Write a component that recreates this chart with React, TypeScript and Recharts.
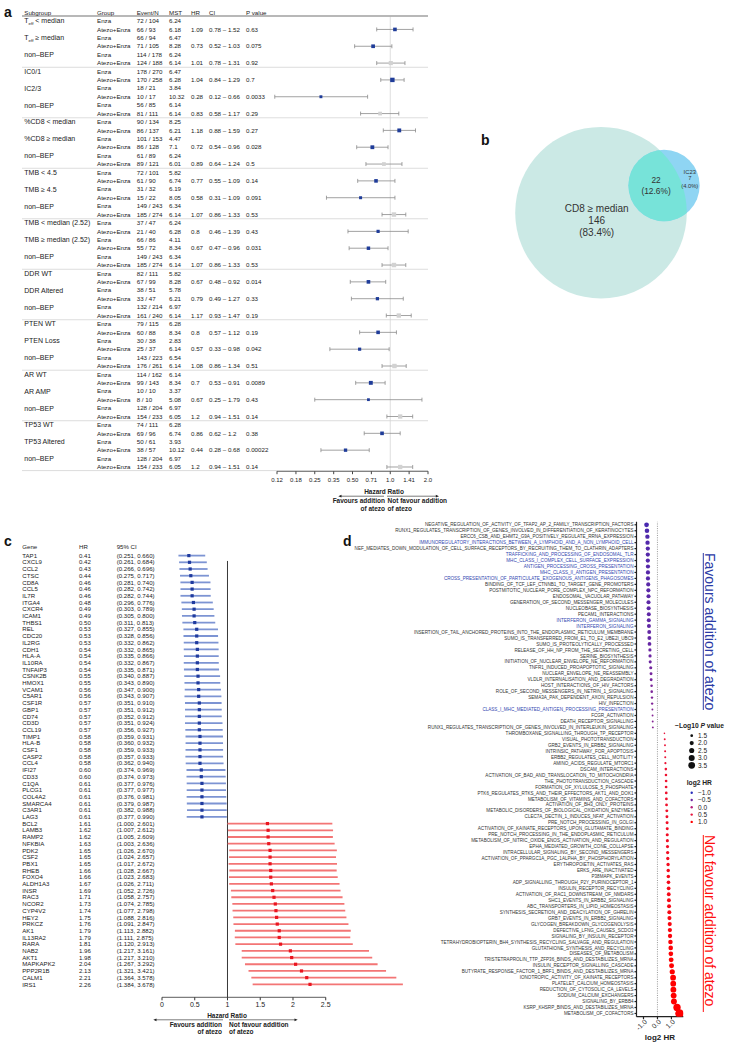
import React from "react";
import { ScatterChart, Scatter, XAxis, YAxis, ErrorBar, ReferenceLine } from "recharts";

const FONT = "'Liberation Sans', Arial, Helvetica, sans-serif";
const INK = "#222";

// ---- panel a: subgroup forest plot ----
const aSubgroups = [
  "T_eff < median", "T_eff ≥ median", "non–BEP",
  "IC0/1", "IC2/3", "non–BEP",
  "%CD8 < median", "%CD8 ≥ median", "non–BEP",
  "TMB < 4.5", "TMB ≥ 4.5", "non–BEP",
  "TMB < median (2.52)", "TMB ≥ median (2.52)", "non–BEP",
  "DDR WT", "DDR Altered", "non–BEP",
  "PTEN WT", "PTEN Loss", "non–BEP",
  "AR WT", "AR AMP", "non–BEP",
  "TP53 WT", "TP53 Altered", "non–BEP",
];
const aEnzaEvents = [72, 66, 114, 178, 18, 56, 90, 101, 61, 72, 31, 149, 37, 66, 149, 82, 38, 132, 79, 30, 143, 114, 10, 128, 74, 50, 128];
const aEnzaN = [104, 94, 178, 270, 21, 85, 134, 153, 89, 101, 32, 243, 47, 86, 243, 111, 51, 214, 115, 38, 223, 162, 10, 204, 111, 61, 204];
const aEnzaMst = [6.24, 6.47, 6.24, 6.47, 3.84, 6.14, 8.25, 4.47, 6.24, 5.82, 6.19, 6.34, 6.24, 4.11, 6.34, 5.82, 5.78, 6.97, 6.28, 2.83, 6.54, 6.14, 3.37, 6.97, 6.28, 3.93, 6.97];
const aComboEvents = [66, 71, 124, 170, 10, 81, 86, 86, 89, 61, 15, 185, 21, 55, 185, 67, 33, 161, 60, 25, 176, 99, 8, 154, 69, 38, 154];
const aComboN = [93, 105, 188, 258, 17, 111, 137, 128, 121, 90, 22, 274, 40, 72, 274, 99, 47, 240, 88, 37, 261, 143, 10, 233, 96, 57, 233];
const aComboMst = [6.18, 8.28, 6.14, 6.28, 10.32, 6.14, 6.21, 7.1, 6.01, 6.74, 8.05, 6.14, 6.28, 8.34, 6.14, 8.28, 6.21, 6.14, 8.34, 6.14, 6.14, 8.34, 5.08, 6.05, 6.74, 10.12, 6.05];
const aHR = [1.09, 0.73, 1.01, 1.04, 0.28, 0.83, 1.18, 0.72, 0.89, 0.77, 0.58, 1.07, 0.8, 0.67, 1.07, 0.67, 0.79, 1.17, 0.8, 0.57, 1.08, 0.7, 0.67, 1.2, 0.86, 0.44, 1.2];
const aLow = [0.78, 0.52, 0.78, 0.84, 0.12, 0.58, 0.88, 0.54, 0.64, 0.55, 0.31, 0.86, 0.46, 0.47, 0.86, 0.48, 0.49, 0.93, 0.57, 0.33, 0.86, 0.53, 0.25, 0.94, 0.62, 0.28, 0.94];
const aHigh = [1.52, 1.03, 1.31, 1.29, 0.66, 1.17, 1.59, 0.96, 1.24, 1.09, 1.09, 1.33, 1.39, 0.96, 1.33, 0.92, 1.27, 1.47, 1.12, 0.98, 1.34, 0.91, 1.79, 1.51, 1.2, 0.68, 1.51];
const aP = [0.63, 0.075, 0.92, 0.7, 0.0033, 0.29, 0.27, 0.028, 0.5, 0.14, 0.091, 0.53, 0.43, 0.031, 0.53, 0.014, 0.33, 0.19, 0.19, 0.042, 0.51, 0.0089, 0.43, 0.14, 0.38, 0.00022, 0.14];
const aTickValues = [0.125, 0.177, 0.25, 0.354, 0.5, 0.707, 1, 1.414, 2];
const aTickLabels = ["0.12", "0.18", "0.25", "0.35", "0.50", "0.71", "1.0", "1.41", "2.0"];
const aHeaders = ["Subgroup", "Group", "Event/N", "MST", "HR", "CI", "P value"];

// ---- panel b: Venn ----
const vennSets = ["CD8 ≥ median", "IC23"];
const vennOnly = [146, 7];
const vennBoth = 22;

// ---- panel c: gene forest plot ----
const geneNames = ["TAP1", "CXCL9", "CCL2", "CTSC", "CD8A", "CCL5", "IL7R", "ITGA4", "CXCR4", "ICAM1", "THBS1", "REL", "CDC20", "IL2RG", "CDH1", "HLA-A", "IL10RA", "TNFAIP3", "CSNK2B", "HMOX1", "VCAM1", "C5AR1", "CSF1R", "GBP1", "CD74", "CD3D", "CCL19", "TIMP1", "HLA-B", "CSF1", "CASP2", "CCL4", "IFI27", "CD33", "C1QA", "PLCG1", "COL4A2", "SMARCA4", "C3AR1", "LAG3", "BCL2", "LAMB3", "RAMP2", "NFKBIA", "PDK2", "CSF2", "PBX1", "RHEB", "FOXO4", "ALDH1A3", "INSR", "RAC3", "NCOR2", "CYP4V2", "HEY2", "PRKCZ", "AK1", "IL13RA2", "RARA", "NAB2", "AKT1", "MAPKAPK2", "PPP2R1B", "CALM1", "IRS1"];
const geneHR = [0.41, 0.42, 0.43, 0.44, 0.46, 0.46, 0.46, 0.48, 0.49, 0.49, 0.5, 0.53, 0.53, 0.53, 0.54, 0.54, 0.54, 0.54, 0.55, 0.55, 0.56, 0.56, 0.57, 0.57, 0.57, 0.57, 0.57, 0.58, 0.58, 0.58, 0.58, 0.58, 0.6, 0.6, 0.61, 0.61, 0.61, 0.61, 0.61, 0.61, 1.61, 1.62, 1.62, 1.63, 1.65, 1.65, 1.65, 1.66, 1.66, 1.67, 1.69, 1.71, 1.73, 1.74, 1.75, 1.76, 1.79, 1.79, 1.81, 1.96, 1.98, 2.04, 2.13, 2.21, 2.26];
const geneLow = [0.251, 0.261, 0.266, 0.275, 0.281, 0.282, 0.282, 0.296, 0.303, 0.305, 0.311, 0.327, 0.328, 0.332, 0.332, 0.335, 0.332, 0.335, 0.34, 0.343, 0.347, 0.343, 0.351, 0.351, 0.352, 0.351, 0.356, 0.359, 0.36, 0.359, 0.357, 0.362, 0.374, 0.374, 0.377, 0.377, 0.376, 0.379, 0.382, 0.377, 1.0, 1.007, 1.005, 1.003, 1.026, 1.024, 1.017, 1.028, 1.023, 1.026, 1.052, 1.058, 1.074, 1.077, 1.088, 1.091, 1.113, 1.111, 1.12, 1.217, 1.217, 1.267, 1.321, 1.364, 1.384];
const geneHigh = [0.66, 0.684, 0.696, 0.717, 0.74, 0.742, 0.744, 0.776, 0.789, 0.8, 0.813, 0.855, 0.856, 0.862, 0.865, 0.866, 0.867, 0.871, 0.887, 0.89, 0.9, 0.907, 0.91, 0.912, 0.912, 0.924, 0.927, 0.931, 0.932, 0.933, 0.933, 0.94, 0.969, 0.973, 0.976, 0.977, 0.981, 0.987, 0.988, 0.99, 2.601, 2.612, 2.609, 2.636, 2.67, 2.657, 2.672, 2.667, 2.683, 2.711, 2.726, 2.757, 2.785, 2.798, 2.816, 2.847, 2.882, 2.875, 2.913, 3.161, 3.21, 3.292, 3.421, 3.578, 3.678];
const geneTicks = [0, 0.5, 1, 1.5, 2, 2.5];

// ---- panel d: pathway dot plot ----
const pathNames = [
  "NEGATIVE_REGULATION_OF_ACTIVITY_OF_TFAP2_AP_2_FAMILY_TRANSCRIPTION_FACTORS",
  "RUNX1_REGULATES_TRANSCRIPTION_OF_GENES_INVOLVED_IN_DIFFERENTIATION_OF_KERATINOCYTES",
  "ERCC6_CSB_AND_EHMT2_G9A_POSITIVELY_REGULATE_RRNA_EXPRESSION",
  "IMMUNOREGULATORY_INTERACTIONS_BETWEEN_A_LYMPHOID_AND_A_NON_LYMPHOID_CELL",
  "NEF_MEDIATES_DOWN_MODULATION_OF_CELL_SURFACE_RECEPTORS_BY_RECRUITING_THEM_TO_CLATHRIN_ADAPTERS",
  "TRAFFICKING_AND_PROCESSING_OF_ENDOSOMAL_TLR",
  "MHC_CLASS_I_COMPLEX_CELL_SURFACE_EXPRESSION",
  "ANTIGEN_PROCESSING_CROSS_PRESENTATION",
  "MHC_CLASS_II_ANTIGEN_PRESENTATION",
  "CROSS_PRESENTATION_OF_PARTICULATE_EXOGENOUS_ANTIGENS_PHAGOSOMES",
  "BINDING_OF_TCF_LEF_CTNNB1_TO_TARGET_GENE_PROMOTERS",
  "POSTMITOTIC_NUCLEAR_PORE_COMPLEX_NPC_REFORMATION",
  "ENDOSOMAL_VACUOLAR_PATHWAY",
  "GENERATION_OF_SECOND_MESSENGER_MOLECULES",
  "NUCLEOBASE_BIOSYNTHESIS",
  "PECAM1_INTERACTIONS",
  "INTERFERON_GAMMA_SIGNALING",
  "INTERFERON_SIGNALING",
  "INSERTION_OF_TAIL_ANCHORED_PROTEINS_INTO_THE_ENDOPLASMIC_RETICULUM_MEMBRANE",
  "SUMO_IS_TRANSFERRED_FROM_E1_TO_E2_UBE2I_UBC9",
  "SUMO_IS_PROTEOLYTICALLY_PROCESSED",
  "RELEASE_OF_HH_NP_FROM_THE_SECRETING_CELL",
  "SERINE_BIOSYNTHESIS",
  "INITIATION_OF_NUCLEAR_ENVELOPE_NE_REFORMATION",
  "TNFR1_INDUCED_PROAPOPTOTIC_SIGNALING",
  "NUCLEAR_ENVELOPE_NE_REASSEMBLY",
  "VLDLR_INTERNALISATION_AND_DEGRADATION",
  "HOST_INTERACTIONS_OF_HIV_FACTORS",
  "ROLE_OF_SECOND_MESSENGERS_IN_NETRIN_1_SIGNALING",
  "SEMA3A_PAK_DEPENDENT_AXON_REPULSION",
  "HIV_INFECTION",
  "CLASS_I_MHC_MEDIATED_ANTIGEN_PROCESSING_PRESENTATION",
  "FCGR_ACTIVATION",
  "DEATH_RECEPTOR_SIGNALLING",
  "RUNX1_REGULATES_TRANSCRIPTION_OF_GENES_INVOLVED_IN_INTERLEUKIN_SIGNALING",
  "THROMBOXANE_SIGNALLING_THROUGH_TP_RECEPTOR",
  "VISUAL_PHOTOTRANSDUCTION",
  "GRB2_EVENTS_IN_ERBB2_SIGNALING",
  "INTRINSIC_PATHWAY_FOR_APOPTOSIS",
  "ERBB2_REGULATES_CELL_MOTILITY",
  "AMINO_ACIDS_REGULATE_MTORC1",
  "DSCAM_INTERACTIONS",
  "ACTIVATION_OF_BAD_AND_TRANSLOCATION_TO_MITOCHONDRIA",
  "THE_PHOTOTRANSDUCTION_CASCADE",
  "FORMATION_OF_XYLULOSE_5_PHOSPHATE",
  "PTK6_REGULATES_RTKS_AND_THEIR_EFFECTORS_AKT1_AND_DOK1",
  "METABOLISM_OF_VITAMINS_AND_COFACTORS",
  "ACTIVATION_OF_BH3_ONLY_PROTEINS",
  "METABOLIC_DISORDERS_OF_BIOLOGICAL_OXIDATION_ENZYMES",
  "CLEC7A_DECTIN_1_INDUCES_NFAT_ACTIVATION",
  "PRE_NOTCH_PROCESSING_IN_GOLGI",
  "ACTIVATION_OF_KAINATE_RECEPTORS_UPON_GLUTAMATE_BINDING",
  "PRE_NOTCH_PROCESSING_IN_THE_ENDOPLASMIC_RETICULUM",
  "METABOLISM_OF_NITRIC_OXIDE_ENOS_ACTIVATION_AND_REGULATION",
  "EPHA_MEDIATED_GROWTH_CONE_COLLAPSE",
  "INTRACELLULAR_SIGNALING_BY_SECOND_MESSENGERS",
  "ACTIVATION_OF_PPARGC1A_PGC_1ALPHA_BY_PHOSPHORYLATION",
  "ERYTHROPOIETIN_ACTIVATES_RAS",
  "ERKS_ARE_INACTIVATED",
  "P38MAPK_EVENTS",
  "ADP_SIGNALLING_THROUGH_P2Y_PURINOCEPTOR_1",
  "INSULIN_RECEPTOR_RECYCLING",
  "ACTIVATION_OF_RAC1_DOWNSTREAM_OF_NMDARS",
  "SHC1_EVENTS_IN_ERBB2_SIGNALING",
  "ABC_TRANSPORTERS_IN_LIPID_HOMEOSTASIS",
  "SYNTHESIS_SECRETION_AND_DEACYLATION_OF_GHRELIN",
  "GRB7_EVENTS_IN_ERBB2_SIGNALING",
  "GLYCOGEN_BREAKDOWN_GLYCOGENOLYSIS",
  "DEFECTIVE_LFNG_CAUSES_SCDO3",
  "SIGNALING_BY_INSULIN_RECEPTOR",
  "TETRAHYDROBIOPTERIN_BH4_SYNTHESIS_RECYCLING_SALVAGE_AND_REGULATION",
  "GLUTATHIONE_SYNTHESIS_AND_RECYCLING",
  "DISEASES_OF_METABOLISM",
  "TRISTETRAPROLIN_TTP_ZFP36_BINDS_AND_DESTABILIZES_MRNA",
  "INSULIN_RECEPTOR_SIGNALLING_CASCADE",
  "BUTYRATE_RESPONSE_FACTOR_1_BRF1_BINDS_AND_DESTABILIZES_MRNA",
  "IONOTROPIC_ACTIVITY_OF_KAINATE_RECEPTORS",
  "PLATELET_CALCIUM_HOMEOSTASIS",
  "REDUCTION_OF_CYTOSOLIC_CA_LEVELS",
  "SODIUM_CALCIUM_EXCHANGERS",
  "SIGNALING_BY_ERBB4",
  "KSRP_KHSRP_BINDS_AND_DESTABILIZES_MRNA",
  "METABOLISM_OF_COFACTORS",
];
const pathLog2HR = [
  -0.78, -0.75, -0.72, -0.71, -0.69, -0.69, -0.69, -0.68, -0.68, -0.68,
  -0.66, -0.65, -0.64, -0.64, -0.63, -0.62, -0.62, -0.61, -0.59, -0.58,
  -0.57, -0.54, -0.53, -0.52, -0.48, -0.46, -0.45, -0.42, -0.41, -0.39,
  -0.38, -0.36, -0.35, -0.34, -0.33, 0.5, 0.52, 0.54, 0.55, 0.56,
  0.57, 0.6, 0.61, 0.62, 0.62, 0.63, 0.64, 0.65, 0.67, 0.68,
  0.69, 0.7, 0.7, 0.71, 0.72, 0.73, 0.74, 0.76, 0.77, 0.78,
  0.79, 0.8, 0.81, 0.82, 0.83, 0.85, 0.86, 0.88, 0.89, 0.9,
  0.93, 0.95, 0.96, 0.98, 1.01, 1.06, 1.12, 1.13, 1.14, 1.16,
  1.18, 1.4, 1.58,
];
const pathMlogP = [
  2.3, 2.2, 2.1, 2.1, 2.05, 2.05, 2.05, 2.05, 2.05, 2.05,
  2.0, 2.0, 2.0, 2.0, 2.0, 1.95, 1.95, 1.95, 1.9, 1.9,
  1.85, 1.65, 1.65, 1.6, 1.6, 1.55, 1.55, 1.45, 1.45, 1.42,
  1.4, 1.3, 1.3, 1.3, 1.3, 1.25, 1.3, 1.3, 1.32, 1.32,
  1.35, 1.45, 1.45, 1.48, 1.5, 1.5, 1.5, 1.52, 1.55, 1.55,
  1.57, 1.58, 1.6, 1.6, 1.62, 1.65, 1.68, 1.7, 1.72, 1.75,
  1.8, 1.85, 1.88, 1.9, 1.92, 1.95, 1.97, 2.0, 2.05, 2.08,
  2.2, 2.22, 2.25, 2.35, 2.4, 2.55, 2.85, 2.85, 2.9, 2.9,
  2.95, 3.95, 5.0,
];
const pathImmune = [
  "IMMUNOREGULATORY_INTERACTIONS_BETWEEN_A_LYMPHOID_AND_A_NON_LYMPHOID_CELL",
  "TRAFFICKING_AND_PROCESSING_OF_ENDOSOMAL_TLR",
  "MHC_CLASS_I_COMPLEX_CELL_SURFACE_EXPRESSION",
  "ANTIGEN_PROCESSING_CROSS_PRESENTATION",
  "MHC_CLASS_II_ANTIGEN_PRESENTATION",
  "CROSS_PRESENTATION_OF_PARTICULATE_EXOGENOUS_ANTIGENS_PHAGOSOMES",
  "INTERFERON_GAMMA_SIGNALING",
  "INTERFERON_SIGNALING",
  "CLASS_I_MHC_MEDIATED_ANTIGEN_PROCESSING_PRESENTATION",
];
const dTicks = [-1, 0, 1];
const legendP = [1.5, 2.0, 2.5, 3.0, 3.5];
const legendHR = [-1.0, -0.5, 0.0, 0.5, 1.0];

// ---------- derived tables ----------
const aTable = aSubgroups.flatMap((name, k) => [
  { label: name, group: "Enza", events: `${aEnzaEvents[k]} / ${aEnzaN[k]}`, mst: aEnzaMst[k], k, combo: false },
  { label: "", group: "Atezo+Enza", events: `${aComboEvents[k]} / ${aComboN[k]}`, mst: aComboMst[k], k, combo: true },
]);
const aRowIdx = aTable.map((_, i) => i);
const aPoints = aSubgroups.map((name, k) => ({
  row: 2 * k + 1,
  hr: aHR[k],
  err: [aHR[k] - aLow[k], aHigh[k] - aHR[k]],
  bep: !name.startsWith("non"),
  n: aComboN[k],
}));

const cRows = geneNames.map((g, i) => ({
  row: i,
  gene: g,
  hr: geneHR[i],
  err: [geneHR[i] - geneLow[i], geneHigh[i] - geneHR[i]],
}));
const cFavour = cRows.filter((r) => r.hr < 1);
const cAgainst = cRows.filter((r) => r.hr >= 1);
const cRowIdx = cRows.map((r) => r.row);
const cBottom = 65.93;

const dRows = pathNames.map((name, i) => ({ row: i, x: pathLog2HR[i], p: pathMlogP[i], name }));
const dRowIdx = dRows.map((r) => r.row);

// colour / size helpers for panel d
const hrStops = [
  { v: -1, c: [40, 44, 186] },
  { v: -0.5, c: [112, 38, 160] },
  { v: 0, c: [182, 30, 122] },
  { v: 0.5, c: [232, 22, 62] },
  { v: 1, c: [255, 0, 0] },
];
function hrColor(v: number) {
  const x = Math.max(-1, Math.min(1, v));
  for (let i = 0; i < hrStops.length - 1; i++) {
    const a = hrStops[i], b = hrStops[i + 1];
    if (x <= b.v) {
      const t = (x - a.v) / (b.v - a.v);
      const c = a.c.map((ch, j) => Math.round(ch + (b.c[j] - ch) * t));
      return `rgb(${c[0]},${c[1]},${c[2]})`;
    }
  }
  return "rgb(255,0,0)";
}
function pRadius(p: number) {
  const area = Math.max(1.2, 5.3 + 13.45 * (p - 1.5));
  return Math.sqrt(area / Math.PI) * 1.05;
}

// venn geometry (area proportional)
function lensArea(d: number, R: number, r: number) {
  if (d >= R + r) return 0;
  if (d <= R - r) return Math.PI * r * r;
  const a = r * r * Math.acos((d * d + r * r - R * R) / (2 * d * r));
  const b = R * R * Math.acos((d * d + R * R - r * r) / (2 * d * R));
  const c = 0.5 * Math.sqrt((-d + r + R) * (d + r - R) * (d - r + R) * (d + r + R));
  return a + b - c;
}
function centreGap(R: number, r: number, target: number) {
  let lo = R - r, hi = R + r;
  for (let k = 0; k < 60; k++) {
    const mid = (lo + hi) / 2;
    if (lensArea(mid, R, r) > target) lo = mid;
    else hi = mid;
  }
  return (lo + hi) / 2;
}
const vennTotal = vennOnly[0] + vennOnly[1] + vennBoth;
const bigTotal = vennOnly[0] + vennBoth;
const smallTotal = vennOnly[1] + vennBoth;
const bigR = 85.8;
const smallR = bigR * Math.sqrt(smallTotal / bigTotal);
const gap = centreGap(bigR, smallR, (Math.PI * bigR * bigR * vennBoth) / bigTotal);
const vennAngle = Math.atan2(-27.7, 64.2);
const vennData = [
  { id: 0, x: 161, y: 152.7, radius: bigR },
  {
    id: 1,
    x: 161 + gap * Math.cos(vennAngle),
    y: 152.7 + gap * Math.sin(vennAngle),
    radius: smallR,
  },
];
const pct = (n: number) => `(${((100 * n) / vennTotal).toFixed(1)}%)`;

// ---------- shapes & ticks ----------
function SubgroupLabel({ text, y }: any) {
  if (text.startsWith("T_eff")) {
    return (
      <text x={24.3} y={y} dy="0.35em" fontSize={7} fill={INK}>
        T<tspan fontSize={4.4} dy={1.6}>eff</tspan>
        <tspan dy={-1.6}>{text.slice(5)}</tspan>
      </text>
    );
  }
  return (
    <text x={24.3} y={y} dy="0.35em" fontSize={7} fill={INK}>
      {text}
    </text>
  );
}

function TableTickA(props: any) {
  const { y, payload } = props;
  const i = payload.value;
  const r = aTable[i];
  if (!r) return null;
  const k = r.k;
  return (
    <g fontFamily={FONT} fill={INK} fontSize={6.2}>
      {i % 6 === 0 && i > 0 && <line x1={22} x2={428} y1={y - 4.2} y2={y - 4.2} stroke="#d4d4d4" strokeWidth={0.8} />}
      {i === aTable.length - 1 && <line x1={22} x2={428} y1={y + 3.6} y2={y + 3.6} stroke="#d4d4d4" strokeWidth={0.8} />}
      {r.label && <SubgroupLabel text={r.label} y={y} />}
      <text x={97} y={y} dy="0.35em">{r.group}</text>
      <text x={136.7} y={y} dy="0.35em">{r.events}</text>
      <text x={169} y={y} dy="0.35em">{String(r.mst)}</text>
      {r.combo && (
        <>
          <text x={191} y={y} dy="0.35em">{String(aHR[k])}</text>
          <text x={209} y={y} dy="0.35em">{`${aLow[k]} – ${aHigh[k]}`}</text>
          <text x={246} y={y} dy="0.35em">{String(aP[k])}</text>
        </>
      )}
    </g>
  );
}

function BoxShape(props: any) {
  const { cx, cy, payload } = props;
  const s = 2.4 + Math.sqrt(payload.n) / 8;
  return <rect x={cx - s / 2} y={cy - s / 2} width={s} height={s} fill={payload.bep ? "#1f3c99" : "#d2d2d2"} />;
}

function GeneTick(props: any) {
  const { y, payload } = props;
  const i = payload.value;
  if (i < 0 || i >= geneNames.length) return null;
  return (
    <g fontFamily={FONT} fill={INK} fontSize={6.1}>
      <text x={22.3} y={y} dy="0.35em">{geneNames[i]}</text>
      <text x={79} y={y} dy="0.35em">{geneHR[i].toFixed(2)}</text>
      <text x={116.7} y={y} dy="0.35em">{`(${geneLow[i].toFixed(3)}, ${geneHigh[i].toFixed(3)})`}</text>
    </g>
  );
}

const geneDot = (fill: string) => (props: any) => {
  const { cx, cy } = props;
  return <rect x={cx - 1.6} y={cy - 1.6} width={3.2} height={3.2} fill={fill} />;
};

function PathTick(props: any) {
  const { x, y, payload } = props;
  const name = pathNames[payload.value];
  if (!name) return null;
  return (
    <text x={x} y={y} dy="0.35em" textAnchor="end" fontSize={4.6} fontFamily={FONT} fill={pathImmune.includes(name) ? "#3348b0" : "#333"}>
      {name}
    </text>
  );
}

function DXTick(props: any) {
  const { x, y, payload } = props;
  return (
    <text transform={`translate(${x + 4},${y + 1}) rotate(-45)`} textAnchor="end" fontSize={7} fontFamily={FONT} fill="#333">
      {payload.value.toFixed(1)}
    </text>
  );
}

function PathDot(props: any) {
  const { cx, cy, payload } = props;
  return <circle cx={cx} cy={cy} r={pRadius(payload.p)} fill={hrColor(payload.x)} />;
}

function VennShape(props: any) {
  const { cx, cy, payload } = props;
  const r = payload.radius;
  const txt = { fontFamily: FONT, fill: "#333", textAnchor: "middle" as const };
  if (payload.id === 0) {
    return (
      <g>
        <defs>
          <clipPath id="vennBigClip">
            <circle cx={cx} cy={cy} r={r} />
          </clipPath>
        </defs>
        <circle cx={cx} cy={cy} r={r} fill="#cbe9e5" />
        <text {...txt} x={cx - 4.3} y={cy - 0.8} fontSize={10}>{vennSets[0]}</text>
        <text {...txt} x={cx - 4.3} y={cy + 11.6} fontSize={10}>{vennOnly[0]}</text>
        <text {...txt} x={cx - 4.3} y={cy + 23.6} fontSize={10}>{pct(vennOnly[0])}</text>
      </g>
    );
  }
  return (
    <g>
      <circle cx={cx} cy={cy} r={r} fill="#8fd5f3" />
      <circle cx={cx} cy={cy} r={r} fill="#77e3d9" clipPath="url(#vennBigClip)" />
      <text {...txt} x={cx - 8} y={cy - 2} fontSize={8.4}>{vennBoth}</text>
      <text {...txt} x={cx - 8} y={cy + 8.7} fontSize={8.4}>{pct(vennBoth)}</text>
      <text {...txt} x={cx + 25.7} y={cy - 11.8} fontSize={5.8}>{vennSets[1]}</text>
      <text {...txt} x={cx + 25.7} y={cy - 5.1} fontSize={5.8}>{vennOnly[1]}</text>
      <text {...txt} x={cx + 25.7} y={cy + 2.2} fontSize={5.8}>{pct(vennOnly[1])}</text>
    </g>
  );
}

function Arrow({ from, to, y }: { from: number; to: number; y: number }) {
  const dir = Math.sign(to - from);
  return (
    <g>
      <line x1={from} x2={to - dir * 2} y1={y} y2={y} stroke={INK} strokeWidth={0.6} />
      <path d={`M${to},${y} L${to - dir * 3.2},${y - 1.4} L${to - dir * 3.2},${y + 1.4} Z`} fill={INK} />
    </g>
  );
}

// ---------- panels ----------
function PanelA() {
  return (
    <ScatterChart width={440} height={520} margin={{ top: 16.8, right: 12, bottom: 18.8, left: 0 }}>
      <XAxis
        type="number"
        dataKey="hr"
        scale="log"
        domain={[0.125, 2]}
        allowDataOverflow
        ticks={aTickValues}
        interval={0}
        tickFormatter={(v: number) => aTickLabels[aTickValues.indexOf(v)]}
        height={30}
        tickSize={3}
        tickMargin={4}
        stroke="#444"
        tick={{ fontSize: 6, fill: INK, fontFamily: FONT }}
      />
      <YAxis
        type="number"
        dataKey="row"
        domain={[-0.5, 53.5]}
        reversed
        allowDataOverflow
        ticks={aRowIdx}
        interval={0}
        width={277}
        axisLine={false}
        tickLine={false}
        tick={(p: any) => <TableTickA {...p} />}
      />
      <ReferenceLine x={1} stroke="#d6d6d6" strokeWidth={0.8} />
      <Scatter data={aPoints} shape={(p: any) => <BoxShape {...p} />} isAnimationActive={false}>
        <ErrorBar dataKey="err" direction="x" width={2} stroke="#8a8a8a" strokeWidth={0.8} />
      </Scatter>
    </ScatterChart>
  );
}

function PanelB() {
  return (
    <ScatterChart width={295} height={300} margin={{ top: 0, right: 0, bottom: 0, left: 0 }}>
      <XAxis type="number" dataKey="x" domain={[0, 295]} hide />
      <YAxis type="number" dataKey="y" domain={[0, 300]} reversed hide />
      <Scatter data={vennData} shape={(p: any) => <VennShape {...p} />} isAnimationActive={false} />
    </ScatterChart>
  );
}

function PanelC() {
  return (
    <ScatterChart width={420} height={477.3} margin={{ top: 12.25, right: 12.4, bottom: 0, left: 0 }}>
      <XAxis
        type="number"
        dataKey="hr"
        domain={[0, 3.75]}
        allowDataOverflow
        ticks={geneTicks}
        interval={0}
        height={20}
        axisLine={false}
        tickSize={3}
        tickMargin={2}
        stroke="#333"
        tick={{ fontSize: 7, fill: INK, fontFamily: FONT }}
      />
      <YAxis
        type="number"
        dataKey="row"
        domain={[-0.5, cBottom]}
        reversed
        allowDataOverflow
        ticks={cRowIdx}
        interval={0}
        width={162}
        axisLine={false}
        tickLine={false}
        tick={(p: any) => <GeneTick {...p} />}
      />
      <ReferenceLine segment={[{ x: 0, y: cBottom }, { x: 2.5, y: cBottom }]} stroke="#333" strokeWidth={0.8} ifOverflow="visible" />
      <ReferenceLine segment={[{ x: 1, y: 0.8 }, { x: 1, y: cBottom }]} stroke="#222" strokeWidth={0.9} ifOverflow="visible" />
      <Scatter data={cFavour} shape={geneDot("#1f3a9e")} isAnimationActive={false}>
        <ErrorBar dataKey="err" direction="x" width={0} stroke="#7d94d3" strokeWidth={1.8} />
      </Scatter>
      <Scatter data={cAgainst} shape={geneDot("#ea1520")} isAnimationActive={false}>
        <ErrorBar dataKey="err" direction="x" width={0} stroke="#f37575" strokeWidth={1.8} />
      </Scatter>
    </ScatterChart>
  );
}

function PanelD() {
  return (
    <ScatterChart width={360} height={546.7} margin={{ top: 21.8, right: 16.7, bottom: 0, left: 0 }}>
      <XAxis
        type="number"
        dataKey="x"
        domain={[-1.5, 1.85]}
        allowDataOverflow
        ticks={dTicks}
        interval={0}
        height={30}
        tickSize={2.5}
        tickMargin={2}
        stroke="#222"
        strokeWidth={1.2}
        tick={(p: any) => <DXTick {...p} />}
        label={{ value: "log2 HR", position: "insideBottom", offset: 7, fontSize: 8, fontWeight: "bold", fill: INK, fontFamily: FONT }}
      />
      <YAxis
        type="number"
        dataKey="row"
        domain={[-0.5, 82.54]}
        reversed
        allowDataOverflow
        ticks={dRowIdx}
        interval={0}
        width={296.5}
        tickSize={2}
        tickMargin={1}
        stroke="#222"
        strokeWidth={1.2}
        tick={(p: any) => <PathTick {...p} />}
      />
      <ReferenceLine x={0} stroke="#808080" strokeWidth={0.8} strokeDasharray="1 1.3" />
      <Scatter data={dRows} shape={(p: any) => <PathDot {...p} />} isAnimationActive={false} />
    </ScatterChart>
  );
}

function Overlay() {
  const aHeaderX = [24.3, 97, 136.7, 169, 191, 209, 246];
  return (
    <svg width={735} height={1050} style={{ position: "absolute", left: 0, top: 0, pointerEvents: "none" }} fontFamily={FONT}>
      {/* panel a */}
      <text x={4} y={17} fontSize={14} fontWeight="bold" fill="#111">a</text>
      {aHeaders.map((h, i) => (
        <text key={h} x={aHeaderX[i]} y={14.6} fontSize={6.2} fill={INK}>{h}</text>
      ))}
      <line x1={22} x2={428} y1={16} y2={16} stroke="#333" strokeWidth={0.7} />
      <text x={384} y={494} fontSize={6.5} fontWeight="bold" textAnchor="middle" fill={INK}>Hazard Ratio</text>
      <Arrow from={384} to={338.3} y={496.2} />
      <Arrow from={387} to={439} y={496.2} />
      <g fontSize={6.5} fontWeight="bold" fill={INK}>
        <text x={385} y={503} textAnchor="end">Favours addition</text>
        <text x={385} y={510.5} textAnchor="end">of atezo</text>
        <text x={387.5} y={503}>Not favour addition</text>
        <text x={387.5} y={510.5}>of atezo</text>
      </g>

      {/* panel b */}
      <text x={481} y={145} fontSize={14} fontWeight="bold" fill="#111">b</text>

      {/* panel c */}
      <text x={4} y={546} fontSize={14} fontWeight="bold" fill="#111">c</text>
      <g fontSize={6.1} fill={INK}>
        <text x={22.3} y={549}>Gene</text>
        <text x={79} y={549}>HR</text>
        <text x={116.7} y={549}>95% CI</text>
      </g>
      <text x={227} y={1018} fontSize={6.5} fontWeight="bold" textAnchor="middle" fill={INK}>Hazard Ratio</text>
      <Arrow from={223} to={153.3} y={1019.8} />
      <Arrow from={229} to={297.7} y={1019.8} />
      <g fontSize={6.5} fontWeight="bold" fill={INK}>
        <text x={222} y={1027} textAnchor="end">Favours addition</text>
        <text x={222} y={1034} textAnchor="end">of atezo</text>
        <text x={229} y={1027}>Not favour addition</text>
        <text x={229} y={1034}>of atezo</text>
      </g>

      {/* panel d */}
      <text x={343} y={546} fontSize={14} fontWeight="bold" fill="#111">d</text>
      <g transform="translate(705,553) rotate(90)">
        <text x={0} y={0} fontSize={14} fill="#2a3aa6">Favours addition of atezo</text>
      </g>
      <line x1={703.3} x2={703.3} y1={553} y2={710} stroke="#2a3aa6" strokeWidth={1} />
      <g transform="translate(705,835) rotate(90)">
        <text x={0} y={0} fontSize={14} fill="#ff1010">Not favour addition of atezo</text>
      </g>
      <line x1={703.3} x2={703.3} y1={835} y2={1012} stroke="#ff1010" strokeWidth={1} />

      <text x={675} y={727.5} fontSize={6.7} fontWeight="bold" fill={INK}>
        −Log10 <tspan fontStyle="italic">P</tspan> value
      </text>
      {legendP.map((p, i) => (
        <g key={p}>
          <circle cx={691.7} cy={735.7 + i * 7.4} r={pRadius(p)} fill="#111" />
          <text x={698} y={735.7 + i * 7.4} dy="0.35em" fontSize={6.5} fill={INK}>{p.toFixed(1)}</text>
        </g>
      ))}
      <text x={686.7} y={785} fontSize={6.7} fontWeight="bold" fill={INK}>log2 HR</text>
      {legendHR.map((v, i) => (
        <g key={v}>
          <circle cx={691.7} cy={792.7 + i * 7.3} r={1.2} fill={hrColor(v)} />
          <text x={698} y={792.7 + i * 7.3} dy="0.35em" fontSize={6.5} fill={INK}>{v === 0 ? "0.0" : v.toFixed(1).replace("-", "−")}</text>
        </g>
      ))}
    </svg>
  );
}

export default function App() {
  return (
    <div style={{ position: "absolute", left: 0, top: 0, width: 735, height: 1050, background: "#fff", fontFamily: FONT, overflow: "hidden" }}>
      <div style={{ position: "absolute", left: 0, top: 0 }}>
        <PanelA />
      </div>
      <div style={{ position: "absolute", left: 440, top: 60 }}>
        <PanelB />
      </div>
      <div style={{ position: "absolute", left: 0, top: 540 }}>
        <PanelC />
      </div>
      <div style={{ position: "absolute", left: 340, top: 500 }}>
        <PanelD />
      </div>
      <Overlay />
    </div>
  );
}
